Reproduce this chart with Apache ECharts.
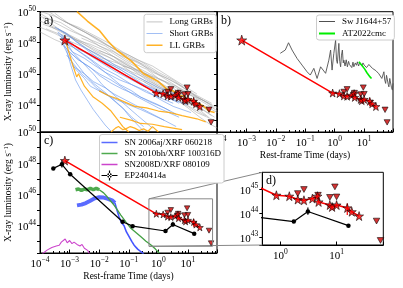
<!DOCTYPE html>
<html><head><meta charset="utf-8">
<script src="https://cdn.jsdelivr.net/npm/echarts@6/dist/echarts.min.js"></script>
<style>html,body{margin:0;padding:0;background:#fff}#chart{width:403px;height:288px}</style>
</head><body><div id="chart"></div>
<script>
// ---------- DATA (all pairs are [log10 rest-frame time (days), log10 L_X (erg/s)]) ----------
const longGRBs = [
  [[-3.7,50],[-3.3,49.5],[-3,49.2],[-2.5,48.7],[-2,48.1],[-1.4,47.5],[-1,47.0],[-0.5,46.6],[0,46.0],[0.5,45.5],[1,44.9],[1.4,44.5],[1.8,44.1]],
  [[-4,49.9],[-3.5,49.3],[-3,48.8],[-2.4,48.3],[-2,47.8],[-1.5,47.4],[-1,46.8],[-0.4,46.3],[0,45.7],[0.6,45.2],[1,44.7],[1.5,44.3],[1.9,43.8]],
  [[-4,49.4],[-3.4,48.9],[-3,48.5],[-2.5,48.0],[-2,47.5],[-1.5,47.1],[-1,46.5],[-0.5,46.1],[0,45.5],[0.5,44.9],[1,44.4],[1.3,44.1],[1.7,43.6]],
  [[-4,49.0],[-3.5,48.6],[-3,48.1],[-2.5,47.7],[-2,47.2],[-1.5,46.6],[-1,46.2],[-0.5,45.8],[0,45.2],[0.5,44.7],[1,44.1],[1.4,43.8],[1.8,43.3]],
  [[-4,48.7],[-3.5,48.2],[-3,47.8],[-2.5,47.4],[-2,46.9],[-1.5,46.5],[-1,45.95],[-0.5,45.5],[0,45.0],[0.5,44.5],[1,43.95],[1.6,43.3]],
  [[-3.9,49.6],[-3.3,48.8],[-2.8,48.2],[-2.3,47.9],[-1.8,47.5],[-1.3,46.8],[-0.8,46.3],[-0.3,45.9],[0.2,45.5],[0.7,44.8],[1.2,44.2],[1.6,43.9],[2,43.5]],
  [[-3.5,49.9],[-3,49.2],[-2.5,48.7],[-2,48.2],[-1.5,47.6],[-1,47.2],[-0.5,46.7],[0,46.1],[0.5,45.6],[1,44.9],[1.5,44.3],[2,43.8]],
  [[-3.9,49.2],[-3.2,48.7],[-2.7,48.1],[-2.2,47.6],[-1.7,47.1],[-1.2,46.5],[-0.7,46.2],[-0.2,45.8],[0.3,45.0],[0.8,44.5],[1.2,44.2],[1.6,43.8]],
  [[-3.8,48.9],[-3.4,48.6],[-2.9,48.3],[-2.4,47.6],[-1.9,47.0],[-1.4,46.7],[-0.9,46.3],[-0.4,45.6],[0.1,45.1],[0.6,44.8],[1.1,44.3],[1.5,43.7],[1.9,43.2]],
  [[-3.2,49.4],[-2.7,48.9],[-2.2,48.4],[-1.7,47.8],[-1.2,47.3],[-0.7,46.8],[-0.2,46.1],[0.3,45.7],[0.8,45.2],[1.3,44.5],[1.8,44.0]],
  [[-2.6,48.3],[-2.1,47.9],[-1.6,47.4],[-1.1,46.8],[-0.6,46.3],[-0.1,45.8],[0.4,45.3],[0.9,44.8],[1.4,44.3],[2,43.6]],
  [[-3.6,49.0],[-3.1,48.5],[-2.6,48.0],[-2.1,47.4],[-1.6,47.0],[-1.1,46.5],[-0.6,46.0],[-0.1,45.4],[0.4,44.9],[0.9,44.3],[1.4,43.7]],
  [[-4,49.7],[-3.3,49.3],[-2.8,48.7],[-2.3,48.2],[-1.8,47.8],[-1.3,47.2],[-0.8,46.8],[-0.3,46.3],[0.2,45.7],[0.7,45.1],[1.2,44.6],[1.7,44.1]],
  [[-2.0,47.5],[-1.5,47.1],[-1.0,46.6],[-0.5,45.9],[0,45.4],[0.5,44.8],[0.9,44.3],[1.3,43.8],[1.7,43.2]],
  [[-0.5,45.5],[0,44.9],[0.3,44.5],[0.7,44.2],[1.0,43.8],[1.4,43.2],[1.7,42.8],[2,42.5]],
  [[-1.2,46.5],[-0.7,45.8],[-0.2,45.3],[0.2,44.9],[0.6,44.3],[1.0,43.9],[1.3,43.5],[1.9,43.0]],
  [[-3.95,50],[-3.5,49.7],[-3.1,49.3],[-2.7,49.0],[-2.2,48.5],[-1.7,48.0],[-1.2,47.4],[-0.7,46.9],[-0.2,46.5],[0.3,45.9],[0.8,45.3],[1.3,44.7]]
];
const shortGRBs = [
  [[-3.4,48.9],[-3.0,48.4],[-2.6,47.8],[-2.1,47.1],[-1.6,46.5],[-1.1,45.9],[-0.6,45.4],[-0.1,45.0],[0.3,44.7],[0.9,44.3]],
  [[-3.3,48.5],[-2.9,47.9],[-2.5,47.4],[-2.0,46.8],[-1.5,46.2],[-1.0,45.7],[-0.5,45.2],[0,44.8],[0.4,44.4],[1.0,44.0]],
  [[-3.2,48.2],[-2.8,47.6],[-2.4,47.1],[-1.9,46.4],[-1.4,45.9],[-0.9,45.3],[-0.4,44.8],[0,44.5],[0.5,44.1]],
  [[-3.3,48.0],[-3.0,47.4],[-2.7,46.9],[-2.3,46.4],[-2.0,45.9],[-1.6,45.4],[-1.2,45.0],[-0.7,44.6],[-0.3,44.2],[0.2,43.8],[0.6,43.4]],
  [[-3.2,47.8],[-3.0,47.0],[-2.8,46.3],[-2.5,45.7],[-2.3,45.2],[-1.9,44.8],[-1.5,44.4],[-1.0,44.0],[-0.6,43.7],[0.2,43.0]],
  [[-3.1,47.5],[-2.95,46.5],[-2.8,45.6],[-2.6,44.9],[-2.4,44.3],[-2.2,43.7],[-2.0,43.2],[-1.8,42.7],[-1.6,42.3]],
  [[-3.4,48.6],[-3.1,48.0],[-2.9,47.4],[-2.5,47.0],[-2.2,46.6],[-1.8,46.1],[-1.3,45.6],[-0.9,45.3],[-0.4,44.9],[0.1,44.3],[0.5,43.9],[1.1,43.5]],
  [[-3.5,49.0],[-3.1,48.6],[-2.8,48.1],[-2.4,47.6],[-2.0,47.2],[-1.5,46.6],[-1.0,46.1],[-0.5,45.6],[0,45.1],[0.4,44.8],[0.8,44.5]],
  [[-3.3,48.3],[-3.0,47.6],[-2.6,46.8],[-2.2,46.0],[-1.9,45.3],[-1.6,44.8],[-1.3,44.3],[-1.0,43.8],[-0.7,43.3],[-0.2,42.5]],
  [[-3.2,47.9],[-2.9,47.0],[-2.5,46.0],[-2.2,45.4],[-1.8,44.8],[-1.5,44.3],[-1.2,43.8],[-1.0,43.3],[-0.8,42.9],[-0.5,42.3]],
  [[-3.0,47.4],[-2.7,46.9],[-2.3,46.4],[-2.0,46.0],[-1.6,45.6],[-1.2,45.1],[-0.8,44.6],[-0.4,44.2],[0,43.8],[0.7,43.2]],
  [[-3.4,48.7],[-3.0,48.1],[-2.7,47.6],[-2.2,47.2],[-1.8,46.8],[-1.3,46.3],[-0.9,45.8],[-0.4,45.2],[0.1,44.7],[0.7,44.1]],
  [[-3.1,47.2],[-2.85,46.6],[-2.6,46.0],[-2.3,45.5],[-2.1,45.1],[-1.7,44.6],[-1.4,44.1],[-1.1,43.6],[-0.9,43.2],[-0.5,42.6]],
  [[-2.9,46.5],[-2.5,46.0],[-2.2,45.5],[-1.8,45.1],[-1.5,44.7],[-1.1,44.3],[-0.7,43.9],[-0.3,43.5],[0.1,43.1],[0.6,42.6]],
  [[-3.3,48.4],[-2.8,47.6],[-2.3,46.9],[-1.8,46.1],[-1.3,45.3],[-0.9,44.9],[-0.6,44.5],[0,44.0],[0.4,43.6]]
];
const llGRBs = [
  [[-2.75,50],[-2.4,49.4],[-2.0,48.8],[-1.7,48.1],[-1.4,47.5],[-0.9,46.8],[-0.5,46.0],[0,45.5],[0.3,45.0],[0.5,44.9],[0.7,44.6],[0.85,44.55],[1.0,44.3],[1.1,44.35],[1.3,44.1],[1.45,44.0],[1.6,43.8],[1.7,43.6],[1.9,43.5]],
  [[-3.15,48.2],[-2.9,46.6],[-2.76,45.8],[-2.7,46.0],[-2.5,45.2],[-2.2,44.5],[-1.9,44.1],[-1.6,43.6],[-1.2,42.6],[-1.0,42.25]],
  [[-2.0,44.9],[-1.7,44.6],[-1.4,44.4],[-0.8,43.9],[-0.4,43.8],[0,43.6],[0.4,43.5],[0.8,43.3],[1.3,43.1],[1.6,42.9]],
  [[-1.3,43.2],[-0.9,43.0],[-0.6,42.8],[-0.2,42.75],[0.2,42.6],[0.5,42.5],[0.8,42.4]],
  [[-1.6,42.25],[-1.45,42.5],[-1.35,42.6],[-1.2,42.4],[-1.1,42.45],[-0.95,42.6],[-0.8,42.5],[-0.65,42.35],[-0.5,42.45],[-0.35,42.3],[-0.2,42.6],[0,42.25]]
];
// EP240414a (red): detections, upper limits, error bar [t, lo, hi]
const epDetections = [[-3.16,48.17],[-0.07,44.76],[0.16,44.72],[0.31,44.58],[0.42,44.55],[0.57,44.62],[0.66,44.72],[0.68,44.48],[0.88,44.35],[0.92,44.27],[1.0,44.35],[1.19,44.23],[1.27,44.07],[1.4,43.89]];
const epUpperLimits = [[0.31,44.83],[0.42,45.0],[0.67,44.76],[0.88,44.67],[0.97,45.11],[1.0,44.69],[1.71,43.68],[1.78,42.87]];
const epErrorBars = [[1.19,43.93,44.42]];
// EP240414a (black) in panels c and d
const epBlack = [[-3.55,47.67],[-3.26,47.93],[-2.98,47.29],[-1.21,44.25],[-0.87,43.97],[0.24,43.66],[0.49,44.08],[1.21,43.49]];
const epBlackErr = [[-3.26,47.72,48.18],[0.49,43.95,44.25]];
// Panel b
const swJ1644 = [[-1.85,47.32],[-1.68,47.53],[-1.57,48.0],[-1.45,47.53],[-1.28,46.99],[-1.11,46.56],[-0.94,46.13],[-0.83,45.92],[-0.71,46.35],[-0.6,45.7],[-0.48,46.45],[-0.31,46.03],[-0.2,46.88],[-0.14,47.53],[-0.09,46.24],[-0.03,47.32],[0.03,48.17],[0.06,46.9],[0.09,46.67],[0.14,47.96],[0.17,46.8],[0.2,46.45],[0.23,47.2],[0.26,47.53],[0.29,46.7],[0.31,46.88],[0.35,46.5],[0.39,46.9],[0.43,46.45],[0.47,46.8],[0.5,46.6],[0.54,46.67],[0.58,46.4],[0.62,46.75],[0.65,46.45],[0.7,46.7],[0.74,46.55],[0.77,46.77],[0.81,46.5],[0.85,46.72],[0.88,46.67],[0.92,46.5],[0.96,46.7],[1.0,46.56],[1.04,46.65],[1.08,46.4],[1.12,46.45],[1.16,46.6],[1.22,46.56],[1.28,46.35],[1.34,46.45],[1.4,46.2],[1.45,46.24],[1.5,46.0],[1.56,46.03],[1.6,45.7],[1.62,45.59],[1.65,46.0],[1.67,46.13],[1.7,45.6],[1.73,45.38],[1.76,45.9],[1.79,45.81],[1.82,45.3],[1.84,45.16],[1.87,45.7],[1.9,45.59],[1.93,45.1],[1.96,44.95],[1.98,45.38]];
const at2022cmc = [[0.82,46.77],[0.87,46.7],[0.92,46.55],[0.96,46.5],[1.02,46.3],[1.06,46.2],[1.1,46.05],[1.15,45.95],[1.2,45.8],[1.25,45.7]];
// Panel c comparison SNe/XRFs
const sn2006ajPlateau = [[-2.75,45.3],[-2.6,45.35],[-2.45,45.45],[-2.3,45.6],[-2.15,45.75],[-2.0,45.82],[-1.85,45.8],[-1.7,45.72],[-1.55,45.6],[-1.47,45.45]];
const sn2006ajDecline = [[-1.47,45.45],[-1.4,45.0],[-1.33,44.57],[-1.25,44.2],[-1.16,44.0],[-1.08,43.6],[-0.99,43.3],[-0.9,43.0],[-0.82,42.75],[-0.7,42.5],[-0.59,42.33],[-0.5,42.2]];
const sn2010bhPlateau = [[-2.8,46.3],[-2.7,46.35],[-2.6,46.25],[-2.5,46.35],[-2.4,46.3],[-2.3,46.4],[-2.2,46.3],[-2.1,46.4],[-2.0,46.3]];
const sn2010bhDecline = [[-2.0,46.3],[-1.85,46.1],[-1.73,45.85],[-1.6,45.55],[-1.5,45.32],[-1.38,45.0],[-1.27,44.68],[-1.1,44.25],[-0.93,43.83],[-0.75,43.55],[-0.59,43.29],[-0.42,43.0],[-0.25,42.76],[-0.1,42.5],[0.03,42.25]];
const sn2008D = [[-3.92,42.2],[-3.75,42.45],[-3.6,42.6],[-3.45,42.7],[-3.35,42.75],[-3.28,42.95],[-3.22,42.85],[-3.15,43.15],[-3.08,42.9],[-3.0,43.05],[-2.92,42.85],[-2.85,42.95],[-2.75,42.8],[-2.65,42.7],[-2.58,42.8],[-2.5,42.55],[-2.45,42.65],[-2.38,42.4],[-2.33,42.2]];
// Axis extents (log10)
const mainX = [-4, 1.98];
const mainY = [42.25, 50];
const insetX = [-0.32, 1.83];
const insetY = [42.68, 45.72];
const legendA = ['Long GRBs','Short GRBs','LL GRBs'];
const legendB = ['Sw J1644+57','AT2022cmc'];
const legendC = ['SN 2006aj/XRF 060218','SN 2010bh/XRF 100316D','SN2008D/XRF 080109','EP240414a'];
const yTitle = 'X-ray luminosity (erg s';
const xTitle = 'Rest-frame Time (days)';

// ---------- CHART ----------
const F = 'Liberation Serif';
const P = v => Math.pow(10, v);
const lin = arr => arr.map(p => p.map(P));
const STAR = 'path://M50,0L61.8,35.1L98.9,35.1L68.8,57.3L79.4,91.9L50,70.5L20.6,91.9L31.2,57.3L1.1,35.1L38.2,35.1Z';
const TRI = 'path://M0,0L10,0L5,9Z';
const lineIcon = w => `path://M0,0L0.01,0L0.01,0.01Z M0,${5-w/2}L16,${5-w/2}L16,${5+w/2}L0,${5+w/2}Z M0,9.99L0.01,9.99L0.01,10Z`;
const EP_ICON = 'path://M0,4.4L16,4.4L16,5.6L0,5.6Z M7.4,0L8.6,0L8.6,10L7.4,10Z M5.6,5A2.4,2.4 0 1,0 10.4,5A2.4,2.4 0 1,0 5.6,5Z';

const rich = {
  b: {fontFamily: F, fontSize: 11, color: '#000', padding: [3, 0, 0, 0]},
  s: {fontFamily: F, fontSize: 7.5, color: '#000', verticalAlign: 'top'}
};
function expFmt(step) {
  return function (v) {
    const l = Math.log10(v), e = Math.round(l);
    if (Math.abs(l - e) > 1e-3) return '';
    if (step === 2 && e % 2 !== 0) return '';
    return '{b|10}{s|' + (e < 0 ? '\u2212' + (-e) : e) + '}';
  };
}
function xAxis(gi, ext, showLabels, name) {
  return {
    type: 'log', gridIndex: gi, min: P(ext[0]), max: P(ext[1]),
    axisLine: {show: true, onZero: false, lineStyle: {color: '#000', width: 1}},
    axisTick: {show: showLabels, inside: true, length: 3.5, lineStyle: {color: '#000'}},
    minorTick: {show: showLabels && gi !== 3, splitNumber: 5, length: 2, lineStyle: {color: '#000'}},
    splitLine: {show: false},
    axisLabel: {show: showLabels, margin: 3, formatter: expFmt(1), rich: rich},
    name: name || '', nameLocation: 'middle', nameGap: 18,
    nameTextStyle: {fontFamily: F, fontSize: 9.5, color: '#000'}
  };
}
function yAxis(gi, ext, showLabels, step, withName) {
  return {
    type: 'log', gridIndex: gi, min: P(ext[0]), max: P(ext[1]),
    axisLine: {show: true, onZero: false, lineStyle: {color: '#000', width: 1}},
    axisTick: {show: true, inside: false, length: 3, lineStyle: {color: '#000'}},
    splitLine: {show: false},
    axisLabel: {show: showLabels, margin: 4, formatter: expFmt(step), rich: rich},
    name: withName ? '{t|' + yTitle + '}{u|\u22121}{t|)}' : '',
    nameLocation: 'middle', nameRotate: 90, nameGap: 27,
    nameTextStyle: {rich: {t: {fontFamily: F, fontSize: 9.5, color: '#000'}, u: {fontFamily: F, fontSize: 6.5, color: '#000', verticalAlign: 'top'}}}
  };
}
const grids = [
  {left: 40, top: 11.7, width: 177, height: 120.3},
  {left: 217, top: 11.7, width: 176, height: 120.3},
  {left: 40, top: 132, width: 177, height: 121},
  {left: 262.3, top: 172.3, width: 121, height: 72.7}
].map(g => Object.assign(g, {show: true, borderColor: '#000', borderWidth: 1, backgroundColor: 'rgba(0,0,0,0)', containLabel: false, outerBoundsMode: 'none'}));
grids[3].backgroundColor = '#fff';

function line(gi, data, color, width, name, z) {
  return {type: 'line', name: name, xAxisIndex: gi, yAxisIndex: gi, data: lin(data), symbol: 'none', showSymbol: false,
    lineStyle: {color: color, width: width}, itemStyle: {color: color}, silent: true, clip: true, z: z || 2, animation: false};
}
function errBars(gi, data, color, z) {
  return {type: 'custom', xAxisIndex: gi, yAxisIndex: gi, data: lin(data), clip: true, silent: true, z: z,
    encode: {x: 0, y: [1, 2]},
    renderItem: function (params, api) {
      const a = api.coord([api.value(0), api.value(1)]);
      const b = api.coord([api.value(0), api.value(2)]);
      return {type: 'line', shape: {x1: a[0], y1: a[1], x2: b[0], y2: b[1]}, style: {stroke: color, lineWidth: 1.2}};
    }};
}
function redSet(gi, starSize, firstSize, triSize) {
  const det = lin(epDetections);
  return [
    line(gi, epDetections, '#ff0000', 1.5, 'EP240414a XRT', 6),
    errBars(gi, epErrorBars, '#ff0000', 6),
    {type: 'scatter', xAxisIndex: gi, yAxisIndex: gi, data: lin(epUpperLimits), symbol: TRI, symbolSize: triSize,
      itemStyle: {color: '#cc0000', borderColor: '#000', borderWidth: 0.7}, silent: true, z: 7, clip: true},
    {type: 'scatter', xAxisIndex: gi, yAxisIndex: gi, data: det.slice(1), symbol: STAR, symbolSize: starSize,
      itemStyle: {color: '#ff0000', borderColor: '#000', borderWidth: 0.7}, silent: true, z: 8, clip: true},
    {type: 'scatter', xAxisIndex: gi, yAxisIndex: gi, data: det.slice(0, 1), symbol: STAR, symbolSize: firstSize,
      itemStyle: {color: '#ff0000', borderColor: '#000', borderWidth: 0.7}, silent: true, z: 8, clip: true}
  ];
}
function blackSet(gi, z) {
  return [
    {type: 'line', name: 'EP240414a', xAxisIndex: gi, yAxisIndex: gi, data: lin(epBlack), symbol: 'circle', symbolSize: 4.5,
      showSymbol: true, lineStyle: {color: '#000', width: 1.2}, itemStyle: {color: '#000'}, silent: true, clip: true, z: z, animation: false},
    errBars(gi, epBlackErr, '#000', z)
  ];
}

const series = [];
longGRBs.forEach(d => series.push(line(0, d, 'rgba(160,160,160,0.5)', 1, 'Long GRBs', 2)));
shortGRBs.forEach(d => series.push(line(0, d, 'rgba(100,149,237,0.6)', 1, 'Short GRBs', 3)));
llGRBs.forEach((d, i) => series.push(line(0, d, 'rgba(255,165,0,0.85)', i === 0 ? 1.6 : 1.2, 'LL GRBs', 4)));
series.push(...redSet(0, 8, 10, [6, 5.4]));
series.push(line(1, swJ1644, '#505050', 0.9, 'Sw J1644+57', 3));
series.push(line(1, at2022cmc, '#00ee00', 1.6, 'AT2022cmc', 4));
series.push(...redSet(1, 8, 10, [6, 5.4]));
series.push(line(2, sn2006ajPlateau, '#5a6bff', 4, 'SN 2006aj/XRF 060218', 3));
series.push(line(2, sn2006ajDecline, '#4455ff', 1.6, 'SN 2006aj/XRF 060218', 3));
series.push(line(2, sn2010bhPlateau, '#4faa4f', 3.5, 'SN 2010bh/XRF 100316D', 3));
series.push(line(2, sn2010bhDecline, '#44a044', 1.3, 'SN 2010bh/XRF 100316D', 3));
series.push(line(2, sn2008D, '#cc44cc', 1.1, 'SN2008D/XRF 080109', 3));
const box = [[insetX[0], insetY[0]], [insetX[1], insetY[0]], [insetX[1], insetY[1]], [insetX[0], insetY[1]], [insetX[0], insetY[0]]];
series.push(line(2, box, '#888888', 1, 'inset', 9));
series.push(...redSet(2, 7, 9, [5.5, 5]));
series.push(...blackSet(2, 9));
series.push(...redSet(3, 9, 10, [6.5, 5.8]));
series.push(...blackSet(3, 9));

function legend(names, left, top, widths, pad, gap) {
  return {
    left: left, top: top, orient: 'vertical', selectedMode: false,
    data: names.map((n, i) => ({name: n, icon: n === 'EP240414a' ? EP_ICON : lineIcon(widths[i])})),
    itemWidth: 16, itemHeight: 10, itemGap: gap, padding: pad,
    backgroundColor: '#fff', borderColor: '#cccccc', borderWidth: 1, borderRadius: 2.5,
    itemStyle: {borderWidth: 0},
    textStyle: {fontFamily: F, fontSize: 9, color: '#000', lineHeight: 10, padding: [0, 0, 0, 2]}
  };
}

const chart = echarts.init(document.getElementById('chart'), null, {renderer: 'canvas'});
chart.setOption({
  animation: false,
  backgroundColor: '#fff',
  grid: grids,
  xAxis: [xAxis(0, mainX, false), xAxis(1, mainX, true, xTitle), xAxis(2, mainX, true, xTitle), xAxis(3, insetX, true)],
  yAxis: [yAxis(0, mainY, true, 2, true), yAxis(1, mainY, false, 2, false), yAxis(2, mainY, true, 2, true), yAxis(3, insetY, true, 1, false)],
  legend: [
    legend(legendA, 144, 14.3, [1.2, 1.2, 1.4], [2.5, 3, 2.5, 2.5], 1.7),
    legend(legendB, 316.5, 15, [1.2, 1.8], [1.5, 3, 1.5, 2.5], 2),
    legend(legendC, 99.5, 134.5, [1.6, 1.6, 1.4, 1.2], [3, 3, 2.5, 2], 1)
  ],
  series: series
});

// inset connector lines (mark_inset style), computed through the axes
const cTL = chart.convertToPixel({gridIndex: 2}, [P(insetX[0]), P(insetY[1])]);
const cBL = chart.convertToPixel({gridIndex: 2}, [P(insetX[0]), P(insetY[0])]);
const dTL = chart.convertToPixel({gridIndex: 3}, [P(insetX[0]), P(insetY[1])]);
const dBL = chart.convertToPixel({gridIndex: 3}, [P(insetX[0]), P(insetY[0])]);
const txt = (t, x, y) => ({type: 'text', left: x, top: y, z: 50, style: {text: t, font: '12px "Liberation Serif"', fill: '#000'}});
chart.setOption({
  graphic: [
    {type: 'line', z: 1, shape: {x1: cTL[0], y1: cTL[1], x2: dTL[0], y2: dTL[1]}, style: {stroke: '#888', lineWidth: 1}},
    {type: 'line', z: 1, shape: {x1: cBL[0], y1: cBL[1], x2: dBL[0], y2: dBL[1]}, style: {stroke: '#888', lineWidth: 1}},
    txt('a)', 44, 15), txt('b)', 221, 15), txt('c)', 44, 135), txt('d)', 266, 175)
  ]
});
</script></body></html>
